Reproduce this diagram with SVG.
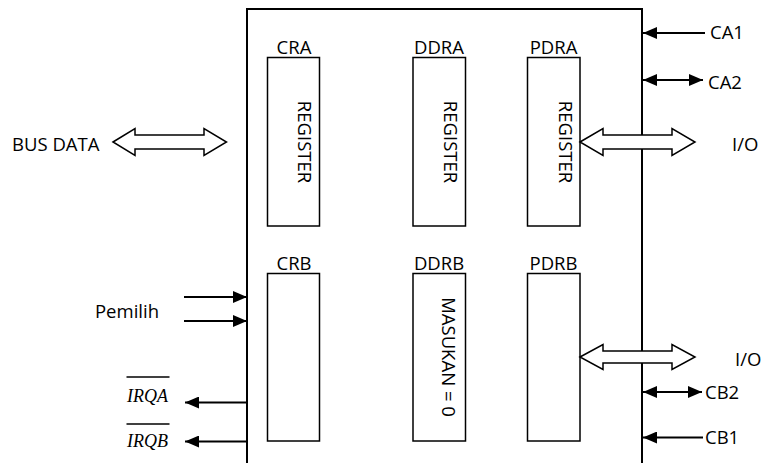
<svg xmlns="http://www.w3.org/2000/svg" width="768" height="463" viewBox="0 0 768 463">
<defs>
<marker id="ah" viewBox="0 0 14 12" refX="14" refY="6" markerWidth="14" markerHeight="12" markerUnits="userSpaceOnUse" orient="auto-start-reverse">
<path d="M0,0 L14,6 L0,12 Z" fill="#000"/>
</marker>
<style>
.t{font-family:"Open Sans","Liberation Sans",sans-serif;font-size:18.5px;fill:#000}
.m{font-family:"Liberation Serif","Times New Roman",serif;font-style:italic;font-size:18px;fill:#000}
.reg{fill:#fff;stroke:#000;stroke-width:1.5}
.ln{stroke:#000;stroke-width:2;fill:none}
.bus{fill:#fff;stroke:#000;stroke-width:1.5;stroke-linejoin:miter}
</style>
</defs>
<rect width="768" height="463" fill="#fff"/>
<g id="chip">
<path d="M247,463 V9 H642 V463" class="ln"/>
</g>
<g id="cra"><rect x="267.5" y="57.5" width="52" height="168.5" class="reg"/><text class="t" x="294" y="54" text-anchor="middle">CRA</text><text class="t" text-anchor="middle" transform="translate(298,142) rotate(90)">REGISTER</text></g>
<g id="ddra"><rect x="413" y="57.5" width="52.5" height="168.5" class="reg"/><text class="t" x="439" y="54" text-anchor="middle">DDRA</text><text class="t" text-anchor="middle" transform="translate(443.5,142) rotate(90)">REGISTER</text></g>
<g id="pdra"><rect x="527.5" y="57.5" width="52.5" height="168.5" class="reg"/><text class="t" x="553.5" y="54" text-anchor="middle">PDRA</text><text class="t" text-anchor="middle" transform="translate(558.5,142) rotate(90)">REGISTER</text></g>
<g id="crb"><rect x="267.5" y="273.5" width="52" height="167.5" class="reg"/><text class="t" x="294" y="269.5" text-anchor="middle">CRB</text></g>
<g id="ddrb"><rect x="413" y="273.5" width="52.5" height="167.5" class="reg"/><text class="t" x="439" y="269.5" text-anchor="middle">DDRB</text><text class="t" text-anchor="middle" transform="translate(442,357) rotate(90)">MASUKAN = 0</text></g>
<g id="pdrb"><rect x="527.5" y="273.5" width="52.5" height="167.5" class="reg"/><text class="t" x="553.5" y="269.5" text-anchor="middle">PDRB</text></g>
<g id="labels">
<text class="t" x="12" y="151">BUS DATA</text>
<text class="t" x="732" y="151">I/O</text>
<text class="t" x="735" y="366">I/O</text>
<text class="t" x="710" y="39">CA1</text>
<text class="t" x="708" y="89">CA2</text>
<text class="t" x="705" y="399">CB2</text>
<text class="t" x="705" y="444">CB1</text>
<text class="t" x="159" y="318" text-anchor="end">Pemilih</text>
<text class="m" x="127" y="402">IRQA</text>
<line x1="126.5" y1="377" x2="169.5" y2="377" stroke="#000" stroke-width="1.3"/>
<text class="m" x="127" y="447">IRQB</text>
<line x1="126.5" y1="424" x2="169.5" y2="424" stroke="#000" stroke-width="1.3"/>
</g>
<g id="connectors">
<path class="bus" d="M113,142 L135,128.5 V135 H204 V128.5 L226.5,142 L204,155.5 V149 H135 V155.5 Z"/>
<path class="bus" d="M580,142 L603,128.5 V135 H672 V128.5 L695,142 L672,155.5 V149 H603 V155.5 Z"/>
<path class="bus" d="M580,357 L603,344.5 V351 H672 V344.5 L695,357 L672,369.5 V363 H603 V369.5 Z"/>
<line class="ln" x1="705" y1="33" x2="643" y2="33" marker-end="url(#ah)"/>
<line class="ln" x1="643" y1="80" x2="703" y2="80" marker-start="url(#ah)" marker-end="url(#ah)"/>
<line class="ln" x1="643" y1="392" x2="702" y2="392" marker-start="url(#ah)" marker-end="url(#ah)"/>
<line class="ln" x1="703" y1="437.5" x2="643" y2="437.5" marker-end="url(#ah)"/>
<line class="ln" x1="184" y1="297" x2="247" y2="297" marker-end="url(#ah)"/>
<line class="ln" x1="184" y1="321" x2="247" y2="321" marker-end="url(#ah)"/>
<line class="ln" x1="247" y1="402.5" x2="185" y2="402.5" marker-end="url(#ah)"/>
<line class="ln" x1="247" y1="441.5" x2="185" y2="441.5" marker-end="url(#ah)"/>
</g>
</svg>
